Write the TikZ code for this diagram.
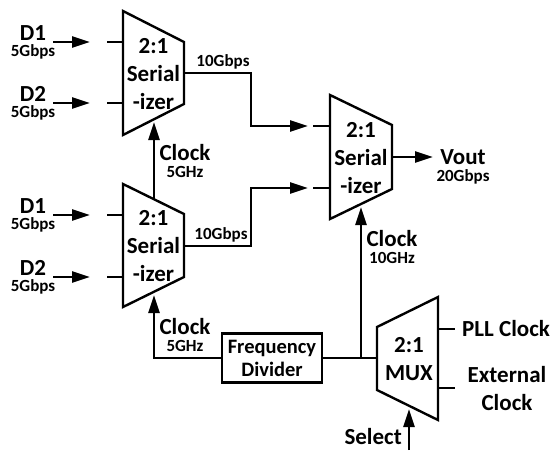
\documentclass[tikz,border=0pt]{standalone}
\usepackage{fontspec}
\setmainfont{Carlito}
\usetikzlibrary{positioning, arrows.meta}

\begin{document}
\begin{tikzpicture}[x=1pt, y=-1pt, line width=2.4pt, >={Triangle[length=18pt,width=11pt]}]
\tikzstyle{big}=[inner sep=0, align=center, font=\fontsize{23}{28}\selectfont\bfseries]
\tikzstyle{rate}=[inner sep=0, font=\fontsize{17}{20}\selectfont\bfseries]
\tikzstyle{divbox}=[draw, inner sep=0, minimum width=100pt, minimum height=49pt, align=center, font=\fontsize{20.5}{23}\selectfont\bfseries]
\useasboundingbox (0,0) rectangle (557,450);

% serializers and mux
\draw (123,11) -- (184,42) -- (184,104) -- (123,135) -- cycle;
\draw (123,184) -- (184,214) -- (184,277) -- (123,307) -- cycle;
\draw (330,95) -- (392,125) -- (392,189) -- (330,219) -- cycle;
\draw (377,327) -- (438,297) -- (438,420) -- (377,390) -- cycle;
\node[big] (s1) at (153.5,74) {2:1\\Serial\\-izer};
\node[big] (s2) at (153.5,246) {2:1\\Serial\\-izer};
\node[big] (s3) at (361,158) {2:1\\Serial\\-izer};
\node[big] (mux) at (409,359) {2:1\\MUX};
\node[divbox] (div) at (272,358) {Frequency\\Divider};

% ports
\coordinate (s1out) at (184,73);
\coordinate (s2out) at (184,246);
\coordinate (s3out) at (392,157);
\coordinate (s1clk) at (154,119);
\coordinate (s2top) at (154,199);
\coordinate (s2clk) at (154,292);
\coordinate (s3clk) at (361,204);
\coordinate (muxout) at (377,358);
\coordinate (muxsel) at (409,406);
\coordinate (junc) at (361,358);

% data inputs
\foreach \n/\y/\lab in {1/42/D1, 2/103/D2, 3/215/D1, 4/277/D2} {
  \coordinate (src\n) at (53,\y);
  \coordinate (tip\n) at (90,\y);
  \coordinate (stub\n) at (107,\y);
  \coordinate (port\n) at (123,\y);
  \draw[->] (src\n) -- (tip\n);
  \draw (stub\n) -- (port\n);
  \node[big] (lab\n) at (33,{\y-9}) {\lab};
  \node[rate, below=1.5pt of lab\n] {5Gbps};
}

% second stage inputs
\coordinate (bend1) at (251,126);
\coordinate (bend2) at (251,188);
\coordinate (tip5) at (308,126);
\coordinate (tip6) at (308,188);
\coordinate (stub5) at (313,126);
\coordinate (stub6) at (313,188);
\draw[->] (s1out) -| (bend1) -- (tip5);
\draw[->] (s2out) -| (bend2) -- (tip6);
\draw (stub5) -- (330,126);
\draw (stub6) -- (330,188);
\node[rate] (r1) at (223,62) {10Gbps};
\node[rate] (r2) at (221,235) {10Gbps};

% output
\coordinate (vend) at (433,157);
\draw[->] (s3out) -- (vend);
\node[big] (vout) at (463,157) {Vout};
\node[rate, below=3pt of vout] {20Gbps};

% clocks
\draw[->, shorten >=3pt] (s2top) -- (s1clk);
\node[big] (c1) at (185,153) {Clock};
\node[rate, below=3pt of c1] {5GHz};
\draw[->, shorten >=3pt] (div.west) -| (s2clk);
\node[big] (c2) at (185,327) {Clock};
\node[rate, below=3pt of c2] {5GHz};
\draw (div.east) -- (muxout);
\draw[->, shorten >=3pt] (junc) -- (s3clk);
\node[big] (c3) at (392,239) {Clock};
\node[rate, below=3pt of c3] {10GHz};

% mux inputs
\coordinate (pll) at (455,329);
\coordinate (ext) at (455,388);
\draw (438,329) -- (pll);
\draw (438,388) -- (ext);
\node[big, right=6pt of pll] (pllclk) {PLL Clock};
\node[big] (extclk) at (507,389) {External\\Clock};
\coordinate (selsrc) at (409,450);
\draw[->, shorten >=3pt] (selsrc) -- (muxsel);
\node[big, anchor=east] (sel) at (403,437) {Select};
\end{tikzpicture}
\end{document}
